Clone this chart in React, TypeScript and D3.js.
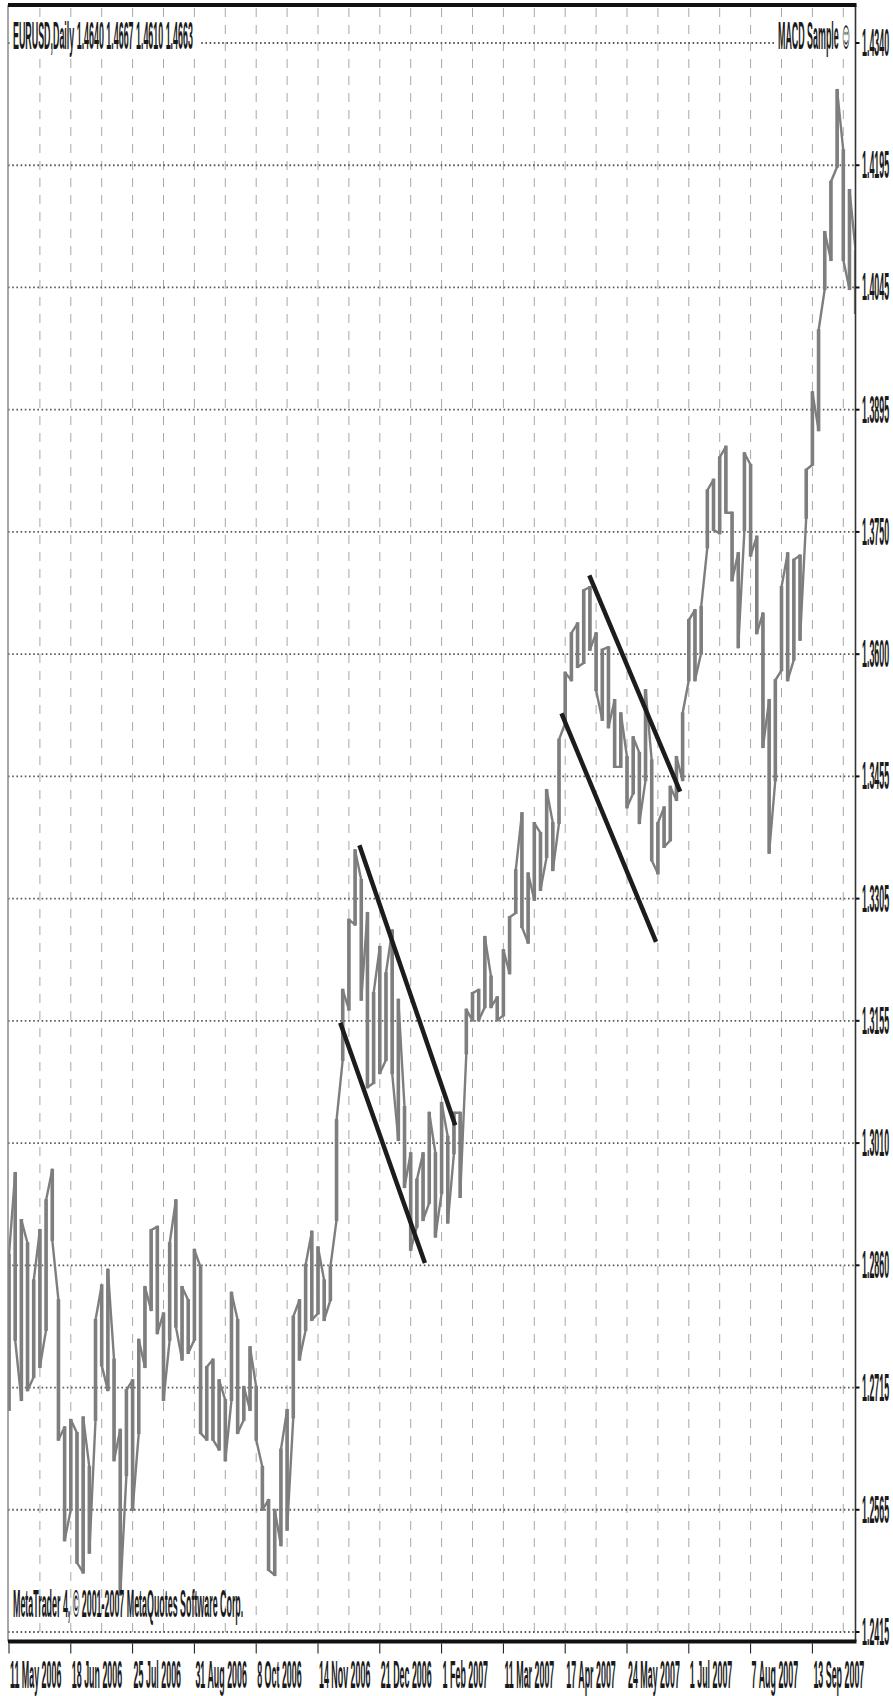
import React from 'react';
import * as d3 from 'd3';

const W = 893;
const H = 1696;

const priceLabels = ['1.4340', '1.4195', '1.4045', '1.3895', '1.3750', '1.3600', '1.3455', '1.3305', '1.3155', '1.3010', '1.2860', '1.2715', '1.2565', '1.2415'];
const dateLabels = ['11 May 2006', '18 Jun 2006', '25 Jul 2006', '31 Aug 2006', '8 Oct 2006', '14 Nov 2006', '21 Dec 2006', '1 Feb 2007', '11 Mar 2007', '17 Apr 2007', '24 May 2007', '1 Jul 2007', '7 Aug 2007', '13 Sep 2007'];

const titleText = 'EURUSD,Daily  1.4640 1.4667 1.4610 1.4663';
const expertText = 'MACD Sample';
const copyrightText = 'MetaTrader 4, © 2001-2007 MetaQuotes Software Corp.';

// sampled highs/lows (every 2 bars)
const highs = [
  1.2872, 1.2971, 1.2914, 1.2886, 1.2841, 1.2902, 1.2938, 1.2975, 1.2817, 1.2663,
  1.2672, 1.2656, 1.2675, 1.2615, 1.2793, 1.2835, 1.2854, 1.2745, 1.2660, 1.2708,
  1.2720, 1.2769, 1.2833, 1.2902, 1.2906, 1.2801, 1.2886, 1.2938, 1.2833, 1.2817,
  1.2878, 1.2857, 1.2736, 1.2745, 1.2720, 1.2696, 1.2826, 1.2793, 1.2712, 1.2760,
  1.2712, 1.2615, 1.2575, 1.2563, 1.2636, 1.2684, 1.2797, 1.2817, 1.2860, 1.2900,
  1.2881, 1.2841, 1.2857, 1.3035, 1.3193, 1.3278, 1.3362, 1.3326, 1.3286, 1.3189,
  1.3245, 1.3213, 1.3265, 1.3181, 1.3051, 1.2995, 1.2963, 1.2995, 1.3044, 1.2995,
  1.3056, 1.3015, 1.3044, 1.3044, 1.3169, 1.3189, 1.3193, 1.3257, 1.3209, 1.3184,
  1.3241, 1.3281, 1.3338, 1.3407, 1.3334, 1.3395, 1.3383, 1.3435, 1.3395, 1.3496,
  1.3577, 1.3625, 1.3637, 1.3677, 1.3681, 1.3625, 1.3605, 1.3608, 1.3544, 1.3528,
  1.3475, 1.3499, 1.3480, 1.3556, 1.3471, 1.3395, 1.3414, 1.3439, 1.3475, 1.3528,
  1.3641, 1.3653, 1.3657, 1.3798, 1.3811, 1.3838, 1.3851, 1.3771, 1.3722, 1.3843,
  1.3829, 1.3742, 1.3649, 1.3544, 1.3568, 1.3681, 1.3722, 1.3714, 1.3719, 1.3823,
  1.3917, 1.3992, 1.4111, 1.4172, 1.4283, 1.4210, 1.4162, 1.4088,
];
const lows = [
  1.2684, 1.2769, 1.2696, 1.2708, 1.2724, 1.2736, 1.2781, 1.2890, 1.2648, 1.2526,
  1.2563, 1.2499, 1.2487, 1.2511, 1.2672, 1.2738, 1.2708, 1.2623, 1.2460, 1.2605,
  1.2563, 1.2656, 1.2736, 1.2805, 1.2777, 1.2696, 1.2769, 1.2785, 1.2745, 1.2753,
  1.2769, 1.2656, 1.2648, 1.2648, 1.2636, 1.2623, 1.2696, 1.2656, 1.2672, 1.2684,
  1.2648, 1.2563, 1.2490, 1.2484, 1.2520, 1.2539, 1.2675, 1.2745, 1.2781, 1.2793,
  1.2801, 1.2793, 1.2817, 1.2914, 1.3108, 1.3169, 1.3272, 1.3181, 1.3075, 1.3080,
  1.3092, 1.3108, 1.3092, 1.3011, 1.2954, 1.2878, 1.2906, 1.2914, 1.2935, 1.2894,
  1.2947, 1.2911, 1.2995, 1.2942, 1.3116, 1.3156, 1.3156, 1.3172, 1.3172, 1.3156,
  1.3162, 1.3213, 1.3286, 1.3269, 1.3250, 1.3302, 1.3314, 1.3354, 1.3338, 1.3395,
  1.3516, 1.3568, 1.3584, 1.3589, 1.3605, 1.3556, 1.3520, 1.3511, 1.3463, 1.3463,
  1.3414, 1.3431, 1.3395, 1.3447, 1.3350, 1.3334, 1.3366, 1.3374, 1.3423, 1.3447,
  1.3568, 1.3568, 1.3601, 1.3729, 1.3750, 1.3746, 1.3771, 1.3689, 1.3608, 1.3750,
  1.3719, 1.3625, 1.3487, 1.3359, 1.3447, 1.3580, 1.3568, 1.3593, 1.3617, 1.3765,
  1.3829, 1.3871, 1.4042, 1.4077, 1.4190, 1.4077, 1.4042, 1.4013,
];

// trend channel lines (sample index, price)
const trendStartIdx = [56.7, 53.6, 93.9, 89.4];
const trendStartPrice = [1.3368, 1.3153, 1.3695, 1.3528];
const trendEndIdx = [72.2, 67.3, 108.6, 104.7];
const trendEndPrice = [1.3029, 1.2862, 1.3433, 1.3251];

const PRICE_MIN = 1.2415;
const PRICE_MAX = 1.4340;

const LEFT = 8;
const RIGHT = 855.5;
const TOP = 5;
const BOTTOM = 1641.5;

const FONT = "'Liberation Sans', Arial, sans-serif";
const FS = 39;
const SX = 0.228;

function CondText(props: { x: number; y: number; text: string; anchor?: string }) {
  const { x, y, text, anchor = 'start' } = props;
  return (
    <text
      transform={`translate(${x},${y}) scale(${SX},1)`}
      fontFamily={FONT}
      fontWeight="bold"
      fontSize={FS}
      fill="#1a1a1a"
      textAnchor={anchor}
    >
      {text}
    </text>
  );
}

export default function App() {
  const x = d3.scaleLinear().domain([0, 136]).range([9, 9 + 6.18 * 136]);
  const y = d3.scaleLinear().domain([PRICE_MIN, PRICE_MAX]).range([1632, 43]);

  const gridValues = d3.range(priceLabels.length).map((i) => PRICE_MAX - (i * (PRICE_MAX - PRICE_MIN)) / (priceLabels.length - 1));
  const vGridIdx = d3.range(1, 28).map((j) => j * 5);
  const dateIdx = dateLabels.map((_, k) => k * 10);

  // zigzag path through each sample's high/low
  const pts: [number, number][] = [];
  highs.forEach((h, i) => {
    const a: [number, number] = [x(i), y(h)];
    const b: [number, number] = [x(i), y(lows[i])];
    if (pts.length === 0) {
      pts.push(b, a);
    } else {
      const prev = pts[pts.length - 1];
      if (Math.abs(a[1] - prev[1]) < Math.abs(b[1] - prev[1])) pts.push(a, b);
      else pts.push(b, a);
    }
  });
  const pricePath = d3.line()(pts) || '';

  return (
    <svg
      width={W}
      height={H}
      viewBox={`0 0 ${W} ${H}`}
      style={{ position: 'absolute', left: 0, top: 0, background: '#fff' }}
    >
      <defs>
        <clipPath id="plot">
          <rect x={LEFT} y={TOP} width={RIGHT - LEFT} height={BOTTOM - TOP} />
        </clipPath>
      </defs>
      <rect x={0} y={0} width={W} height={H} fill="#fff" />

      {/* vertical dashed grid */}
      {vGridIdx.map((i) => (
        <line
          key={'v' + i}
          x1={x(i)}
          x2={x(i)}
          y1={TOP + 3}
          y2={BOTTOM - 2}
          stroke="#a8a8a8"
          strokeWidth={1}
          strokeDasharray="9,8"
        />
      ))}

      {/* horizontal dotted grid */}
      {gridValues.map((v, i) => (
        <line
          key={'h' + i}
          x1={LEFT}
          x2={RIGHT}
          y1={y(v)}
          y2={y(v)}
          stroke="#5a5a5a"
          strokeWidth={1.8}
          strokeDasharray="1.6,2.6"
        />
      ))}

      {/* price */}
      <g clipPath="url(#plot)">
        <path d={pricePath} fill="none" stroke="#7e7e7e" strokeWidth={2.4} strokeLinejoin="round" />
        {highs.map((h, i) => (
          <line key={'b' + i} x1={x(i)} x2={x(i)} y1={y(h) - 1} y2={y(lows[i]) + 1} stroke="#7e7e7e" strokeWidth={3.6} />
        ))}
      </g>

      {/* trend lines */}
      {trendStartIdx.map((s, i) => (
        <line
          key={'t' + i}
          x1={x(s)}
          y1={y(trendStartPrice[i])}
          x2={x(trendEndIdx[i])}
          y2={y(trendEndPrice[i])}
          stroke="#1c1c1c"
          strokeWidth={4.5}
        />
      ))}

      {/* frame */}
      <line x1={LEFT} x2={LEFT} y1={TOP} y2={BOTTOM} stroke="#8a8a8a" strokeWidth={1.5} />
      <line x1={RIGHT} x2={RIGHT} y1={TOP} y2={BOTTOM} stroke="#333" strokeWidth={1.6} />
      <line x1={LEFT} x2={RIGHT + 1} y1={TOP} y2={TOP} stroke="#111" strokeWidth={4} />
      <line x1={LEFT} x2={RIGHT + 1} y1={BOTTOM} y2={BOTTOM} stroke="#111" strokeWidth={4} />

      {/* title */}
      <rect x={11} y={19} width={190} height={33} fill="#fff" />
      <CondText x={13} y={49} text={titleText} />
      <rect x={775} y={19} width={79} height={33} fill="#fff" />
      <CondText x={778} y={49} text={expertText} />
      <text
        transform={`translate(846,47) scale(0.45,1.7)`}
        fontFamily="'DejaVu Sans', sans-serif"
        fontSize={16}
        fill="#111"
        textAnchor="middle"
      >
        ☺
      </text>

      {/* copyright */}
      <CondText x={13} y={1617} text={copyrightText} />

      {/* right price axis */}
      {gridValues.map((v, i) => (
        <g key={'pl' + i}>
          <line x1={RIGHT} x2={RIGHT + 4} y1={y(v)} y2={y(v)} stroke="#111" strokeWidth={2} />
          <CondText x={862} y={y(v) + 13} text={priceLabels[i]} />
        </g>
      ))}

      {/* bottom date axis */}
      {dateIdx.map((d, k) => (
        <g key={'dl' + k}>
          <line x1={x(d)} x2={x(d)} y1={BOTTOM + 2} y2={BOTTOM + 12} stroke="#111" strokeWidth={1} />
          <CondText x={x(d) + 1} y={1688} text={dateLabels[k]} />
        </g>
      ))}
    </svg>
  );
}
